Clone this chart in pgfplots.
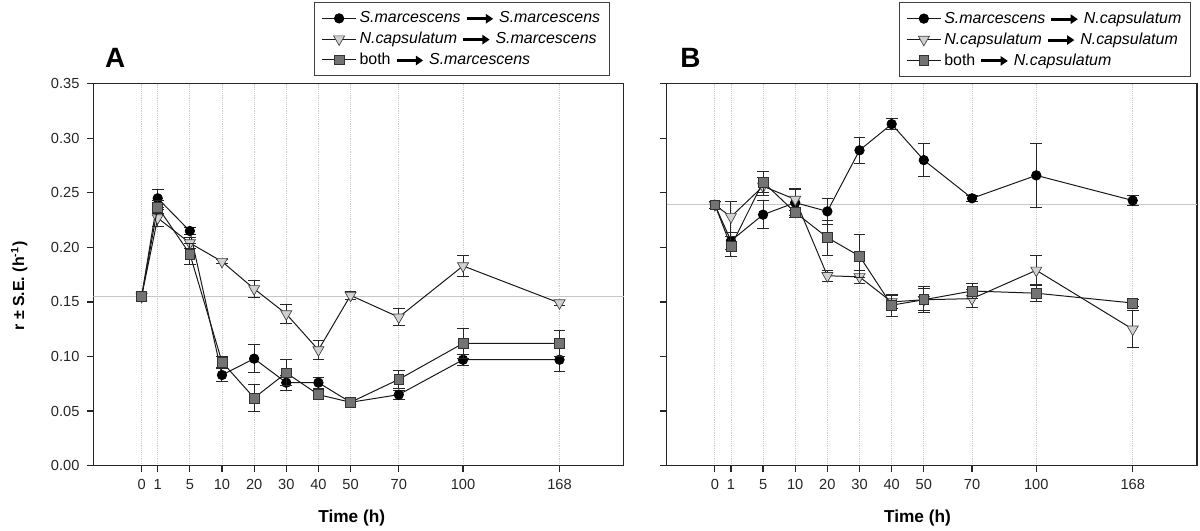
\documentclass[border=0pt]{standalone}
\usepackage{fontspec}
\setmainfont{Liberation Sans}
\usepackage{pgfplots}
\pgfplotsset{compat=1.18}
\usepackage{pgfplotstable}
\usetikzlibrary{arrows.meta}

% columns: pos (axis position), t (hours), sm, sme, nc, nce, bo, boe
\pgfplotstableread{
pos   t   sm    sme   nc    nce   bo    boe
-0.5  0   0.155 0.004 0.155 0.004 0.155 0.004
0     1   0.245 0.008 0.227 0.008 0.237 0.006
1     5   0.215 0.003 0.204 0.005 0.194 0.010
2     10  0.083 0.006 0.187 0.002 0.095 0.005
3     20  0.098 0.013 0.162 0.008 0.062 0.012
4     30  0.076 0.007 0.139 0.009 0.085 0.012
5     40  0.076 0.005 0.106 0.009 0.065 0.003
6     50  0.058 0.002 0.156 0.004 0.058 0.002
7.5   70  0.065 0.004 0.136 0.008 0.079 0.008
9.5   100 0.097 0.005 0.183 0.010 0.112 0.014
12.5  168 0.097 0.011 0.149 0.002 0.112 0.012
}\tableA

\pgfplotstableread{
pos   t   sm    sme   nc    nce   bo    boe
-0.5  0   0.239 0.003 0.239 0.003 0.239 0.003
0     1   0.206 0.008 0.228 0.014 0.201 0.009
1     5   0.230 0.013 0.256 0.008 0.260 0.010
2     10  0.241 0.012 0.244 0.010 0.232 0.005
3     20  0.233 0.012 0.174 0.005 0.209 0.016
4     30  0.289 0.012 0.173 0.006 0.192 0.020
5     40  0.313 0.005 0.150 0.006 0.147 0.010
6     50  0.280 0.015 0.152 0.010 0.152 0.012
7.5   70  0.245 0.003 0.153 0.008 0.160 0.007
9.5   100 0.266 0.029 0.179 0.014 0.158 0.008
12.5  168 0.243 0.005 0.125 0.017 0.149 0.003
}\tableB

\pgfplotsset{
  panel/.style={
    scale only axis, width=399pt, height=287.25pt,
    xmin=-2, xmax=14.5, ymin=0, ymax=0.35,
    clip mode=individual,
    xtick={-0.5,0,1,2,3,4,5,6,7.5,9.5,12.5},
    xticklabels={0,1,5,10,20,30,40,50,70,100,168},
    ytick={0,0.05,0.10,0.15,0.20,0.25,0.30,0.35},
    xtick pos=bottom, ytick pos=left, tick align=outside,
    major tick length=5pt,
    xmajorgrids, major grid style={densely dotted, black!20, line width=0.6pt},
    axis line style={black!85, line width=0.9pt},
    every tick/.style={black!85, line width=0.9pt},
    tick label style={font=\fontsize{11}{13}\selectfont, text=black!85},
    xticklabel style={yshift=-2pt},
    /pgf/number format/assume math mode=true,
    yticklabel style={xshift=-2pt, /pgf/number format/fixed, /pgf/number format/fixed zerofill, /pgf/number format/precision=2},
    xlabel={Time (h)},
    xlabel style={font=\fontsize{13}{15}\selectfont\bfseries, anchor=center},
    legend cell align=left,
    legend image code/.code={\draw[mark repeat=2,mark phase=2,#1] plot coordinates {(0pt,0pt) (13pt,0pt) (26pt,0pt)};},
    legend style={anchor=north east, draw=black!75, line width=0.75pt,
      font=\fontsize{12}{14}\selectfont, inner xsep=5pt, inner ysep=5pt,
      row sep=1.5pt, /tikz/every even column/.append style={column sep=3pt}},
  },
  refline/.style={black!22, line width=0.8pt, forget plot, mark=none},
  eb/.style={error bars/.cd, y dir=both, y explicit,
    error bar style={black!85, line width=0.75pt},
    error mark options={black!85, line width=0.75pt, mark size=4.4pt, rotate=90}},
  sm/.style={black!90, line width=0.75pt, mark=*, mark size=3.6pt,
    mark options={fill=black, draw=black, line width=0.5pt}},
  nc/.style={black!90, line width=0.75pt, mark=triangle*, mark size=4.8pt,
    mark options={rotate=180, fill=black!18, draw=black!75, line width=0.5pt}},
  bo/.style={black!90, line width=0.75pt, mark=square*, mark size=3.7pt,
    mark options={fill=black!55, draw=black!80, line width=0.5pt}},
}

\begin{document}
\newsavebox\arrowbox
\sbox\arrowbox{\tikz[baseline=-0.6ex]\draw[line width=2.3pt,-{Triangle[length=5.5pt,width=7pt]}] (0,0)--(20pt,0);}
\begin{tikzpicture}
\useasboundingbox (0,0) rectangle (900pt,399pt);

\begin{axis}[panel, at={(67.5pt,48.75pt)}, anchor=south west,
  ylabel={r ± S.E. (h\textsuperscript{-1})},
  ylabel style={font=\fontsize{12}{14}\selectfont\bfseries, at={(axis description cs:-0.14,0.47)}, anchor=center},
  xlabel style={at={(axis description cs:0.487,-0.138)}},
  legend style={at={(0.974,1.214)}}]
  \addplot[refline] coordinates {(-2,0.155) (14.5,0.155)};
  \addplot[sm, eb] table[x=pos, y=sm, y error=sme] {\tableA};
  \addlegendentry{\textit{S.marcescens} \usebox\arrowbox\ \textit{S.marcescens}}
  \addplot[nc, eb] table[x=pos, y=nc, y error=nce] {\tableA};
  \addlegendentry{\textit{N.capsulatum} \usebox\arrowbox\ \textit{S.marcescens}}
  \addplot[bo, eb] table[x=pos, y=bo, y error=boe] {\tableA};
  \addlegendentry{both \usebox\arrowbox\ \textit{S.marcescens}}
  \node[font=\fontsize{21}{24}\selectfont\bfseries] at (rel axis cs:0.041,1.068) {A};
\end{axis}

\begin{axis}[panel, at={(498.75pt,48.75pt)}, anchor=south west,
  yticklabels={},
  xlabel style={at={(axis description cs:0.473,-0.138)}},
  legend style={at={(0.989,1.214)}}]
  \addplot[refline] coordinates {(-2,0.239) (14.5,0.239)};
  \addplot[sm, eb] table[x=pos, y=sm, y error=sme] {\tableB};
  \addlegendentry{\textit{S.marcescens} \usebox\arrowbox\ \textit{N.capsulatum}}
  \addplot[nc, eb] table[x=pos, y=nc, y error=nce] {\tableB};
  \addlegendentry{\textit{N.capsulatum} \usebox\arrowbox\ \textit{N.capsulatum}}
  \addplot[bo, eb] table[x=pos, y=bo, y error=boe] {\tableB};
  \addlegendentry{both \usebox\arrowbox\ \textit{N.capsulatum}}
  \node[font=\fontsize{21}{24}\selectfont\bfseries] at (rel axis cs:0.045,1.068) {B};
\end{axis}
\end{tikzpicture}
\end{document}
